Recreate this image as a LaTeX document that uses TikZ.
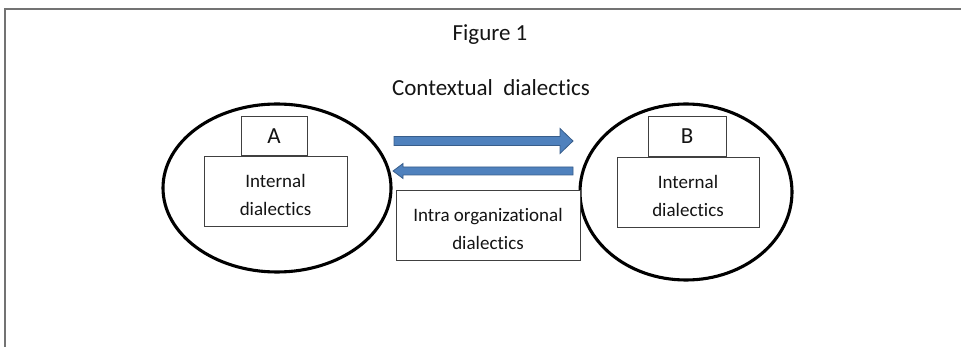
\documentclass[tikz,border=0pt]{standalone}
\usepackage{fontspec}
\setmainfont[Ligatures={NoCommon,NoContextual,NoDiscretionary,NoRare}]{Carlito}
\usetikzlibrary{calc}
\definecolor{arrowfill}{HTML}{4F81BD}
\definecolor{arrowedge}{HTML}{385D8A}
\definecolor{txt}{HTML}{141414}
\begin{document}
\begin{tikzpicture}[x=1pt,y=-1pt,
  frameline/.style={draw=black!55,line width=1.3pt},
  party/.style={draw=black,line width=3.1pt},
  box/.style={draw=black!75,line width=0.9pt,fill=white,inner sep=0pt,
    text=txt,font=\fontsize{19}{28}\selectfont,align=center},
  tag/.style={box,font=\fontsize{23}{28}\selectfont},
  heading/.style={text=txt,font=\fontsize{23}{28}\selectfont,inner sep=0pt},
  bluearrow/.style={fill=arrowfill,draw=arrowedge,line width=0.8pt,line join=miter}]
\useasboundingbox (0,0) rectangle (961,347);
% page frame (top and left edges only)
\draw[frameline] (5,347) -- (5,9) -- (961,9);

% titles
\node[heading] (fig) at (490,35) {Figure 1};
\node[heading] (ctx) at (491,88) {Contextual\ \ dialectics};

% party A
\draw[party] (277,188) ellipse [x radius=114, y radius=84];
\node[box,minimum width=143pt,minimum height=70pt] (intA) at (275.5,191) {\rule{0pt}{22pt}Internal\\dialectics};
\node[tag,minimum width=66pt,minimum height=39pt,anchor=south] (A) at (274,156) {A};

% party B
\draw[party] (686,192) ellipse [x radius=106, y radius=88];
\node[box,minimum width=142pt,minimum height=70pt] (intB) at (688,192) {\rule{0pt}{22pt}Internal\\dialectics};
\node[tag,minimum width=78pt,minimum height=40pt,anchor=south] (B) at (687,157) {B};

% intra-organizational box
\node[box,minimum width=184pt,minimum height=70pt] (intra) at (488,225) {\rule{0pt}{22pt}Intra organizational\\dialectics};

% arrow A -> B
\coordinate (rt) at (394,141);
\coordinate (rh) at (573,141);
\draw[bluearrow] ($(rt)+(0,-4.5)$) -- ($(rh)+(-13,-4.5)$) -- ($(rh)+(-13,-12.5)$) -- (rh)
  -- ($(rh)+(-13,12.5)$) -- ($(rh)+(-13,4.5)$) -- ($(rt)+(0,4.5)$) -- cycle;

% arrow B -> A
\coordinate (lt) at (573,171);
\coordinate (lh) at (393,171);
\draw[bluearrow] ($(lt)+(0,-4)$) -- ($(lh)+(10,-4)$) -- ($(lh)+(10,-7.5)$) -- (lh)
  -- ($(lh)+(10,7.5)$) -- ($(lh)+(10,4)$) -- ($(lt)+(0,4)$) -- cycle;
\end{tikzpicture}
\end{document}
